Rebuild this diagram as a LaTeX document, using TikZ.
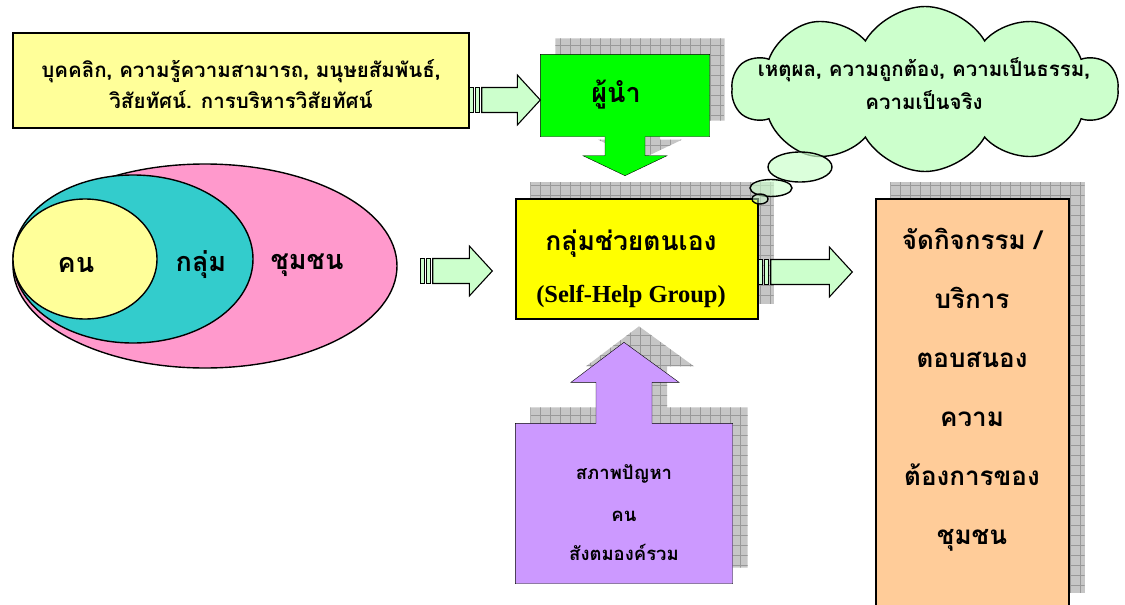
\documentclass[tikz,border=0pt]{standalone}
\usepackage{fontspec}
\setmainfont{Liberation Serif}
\newfontfamily\thaifont[Script=Thai]{Loma}
\usetikzlibrary{shapes.geometric,shapes.symbols,patterns.meta,backgrounds,calc}

\definecolor{paleyellow}{HTML}{FFFF99}
\definecolor{palegreen}{HTML}{CCFFCC}
\definecolor{leadgreen}{HTML}{00FF00}
\definecolor{pinkfill}{HTML}{FF99CC}
\definecolor{tealfill}{HTML}{33CCCC}
\definecolor{peach}{HTML}{FFCC99}
\definecolor{lilac}{HTML}{CC99FF}
\definecolor{shgyellow}{HTML}{FFFF00}

% striped block arrow from tail (#1) to tip (#2)
\newcommand{\stripearrow}[2]{%
  \draw[arrowbody] ($(#1)+(0,-12.5)$) rectangle ($(#1)+(4,12.5)$);
  \draw[arrowbody] ($(#1)+(6,-12.5)$) rectangle ($(#1)+(10,12.5)$);
  \draw[arrowbody] ($(#1)+(12,-12.5)$) -- ($(#2)+(-23,-12.5)$) --
    ($(#2)+(-23,-25)$) -- (#2) -- ($(#2)+(-23,25)$) -- ($(#2)+(-23,12.5)$) --
    ($(#1)+(12,12.5)$) -- cycle;
}
% outlines of the two box arrows
\newcommand{\leadshape}{(lead.north west) -- (lead.north east) --
  (lead.south east) -- ($(lead.south)+(20,0)$) -- ++(0,19) -- ++(22,0) --
  ($(lead.south)+(0,39)$) -- ($(lead.south)+(-42,19)$) -- ++(22,0) --
  ($(lead.south)+(-20,0)$) -- (lead.south west) -- cycle}
\newcommand{\probshape}{(prob.south west) -- (prob.south east) --
  (prob.north east) -- ($(prob.north)+(28,0)$) -- ++(0,-41) -- ++(27,0) --
  ($(prob.north)+(0,-81)$) -- ($(prob.north)+(-53,-41)$) -- ++(25,0) --
  ($(prob.north)+(-28,0)$) -- (prob.north west) -- cycle}

\begin{document}
\begin{tikzpicture}[x=1pt, y=-1pt, line width=1.4pt, align=center,
  bigthai/.style={font=\thaifont\bfseries\fontsize{27}{33}\selectfont},
  midthai/.style={font=\thaifont\bfseries\fontsize{18.5}{24}\selectfont},
  smallthai/.style={font=\thaifont\bfseries\fontsize{20.5}{25}\selectfont},
  boxgeom/.style={rectangle, inner sep=0pt},
  filledbox/.style={boxgeom, draw=black},
  ring/.style={ellipse, draw=black, inner sep=0pt},
  arrowbody/.style={draw=black, fill=palegreen, line width=1.1pt},
  shadowgrid/.style={fill=gray!45, postaction={pattern={Hatch[angle=0,
    distance=10pt, line width=0.6pt]}, pattern color=gray!80}} ]

\useasboundingbox (0,0) rectangle (1125,605);

% circles of people
\node[ring, fill=pinkfill, minimum width=384pt, minimum height=204pt] (comm) at (205,266) {};
\node[ring, fill=tealfill, minimum width=240pt, minimum height=168pt] (group) at (133,259) {};
\node[ring, fill=paleyellow, minimum width=144pt, minimum height=120pt] (person) at (85,259) {};
\node[bigthai] (commtext) at (307,265) {ชุมชน};
\node[bigthai] (grouptext) at (201,265) {กลุ่ม};
\node[bigthai] (persontext) at (76,265) {คน};

% qualities of the leader
\node[filledbox, fill=paleyellow, minimum width=456pt, minimum height=95pt] (qual) at (241,80.5) {};
\node[smallthai] (qualtext) at (241,84) {บุคคลิก, ความรู้ความสามารถ, มนุษยสัมพันธ์,\\[6pt]
  วิสัยทัศน์. การบริหารวิสัยทัศน์};

% leader and problems (geometry only)
\node[boxgeom, minimum width=168pt, minimum height=81pt] (lead) at (625,95.5) {};
\node[boxgeom, minimum width=216pt, minimum height=159pt] (prob) at (624,503.5) {};
\node[bigthai] (leadtext) at (616,95) {ผู้นำ};
\node[midthai] (probtext) at (624,513) {สภาพปัญหา\\[18pt] คน\\[15pt] สังตมองค์รวม};

% self-help group
\node[filledbox, fill=shgyellow, minimum width=242pt, minimum height=120pt] (shg) at (637,259) {};
\node (shgtext) at (631,269) {{\thaifont\bfseries\fontsize{26.5}{32}\selectfont กลุ่มช่วยตนเอง}\\[27pt]
  {\bfseries\fontsize{24.5}{28}\selectfont (Self-Help Group)}};

% activities
\node[filledbox, fill=peach, minimum width=193pt, minimum height=409pt] (act) at (972.5,403.5) {};
\node[font=\thaifont\bfseries\fontsize{26}{32}\selectfont] (acttext) at (972,390)
  {จัดกิจกรรม /\\[27pt] บริการ\\[27pt] ตอบสนอง\\[27pt] ความ\\[27pt] ต้องการของ\\[27pt] ชุมชน};

% reasons cloud
\node[cloud, draw=black, fill=palegreen, cloud puffs=10, cloud puff arc=120,
  cloud ignores aspect, minimum width=385pt, minimum height=165pt, inner sep=0pt] (reason) at (925,89) {};
\node[smallthai] (reasontext) at (924,84) {เหตุผล, ความถูกต้อง, ความเป็นธรรม,\\[8pt] ความเป็นจริง};
\draw[fill=palegreen, fill opacity=0.7] (800,167) ellipse [x radius=32, y radius=15];
\draw[fill=palegreen, fill opacity=0.6] (771,188) ellipse [x radius=21, y radius=8.5];
\draw[fill=palegreen, fill opacity=0.5] (760,199) ellipse [x radius=8, y radius=5];

% shadows and box arrows
\begin{pgfonlayer}{background}
  \begin{scope}[transform canvas={xshift=15pt, yshift=16pt}]
    \path[shadowgrid] \leadshape;
    \path[shadowgrid] \probshape;
    \path[shadowgrid] (shg.south west) rectangle (shg.north east);
    \path[shadowgrid] (act.south west) rectangle (act.north east);
  \end{scope}
  \draw[fill=leadgreen] \leadshape;
  \draw[fill=lilac] \probshape;
\end{pgfonlayer}

% block arrows
\coordinate (t1) at ([yshift=-19.5pt]qual.east);
\coordinate (h1) at (lead.west |- t1);
\coordinate (t2) at ($(comm.east)+(23,5)$);
\coordinate (h2) at ($(shg.west |- t2)+(-23,0)$);
\coordinate (t3) at ([yshift=-13pt]shg.east);
\coordinate (h3) at ($(act.west |- t3)+(-23,0)$);
\stripearrow{t1}{h1}
\stripearrow{t2}{h2}
\stripearrow{t3}{h3}

\end{tikzpicture}
\end{document}
